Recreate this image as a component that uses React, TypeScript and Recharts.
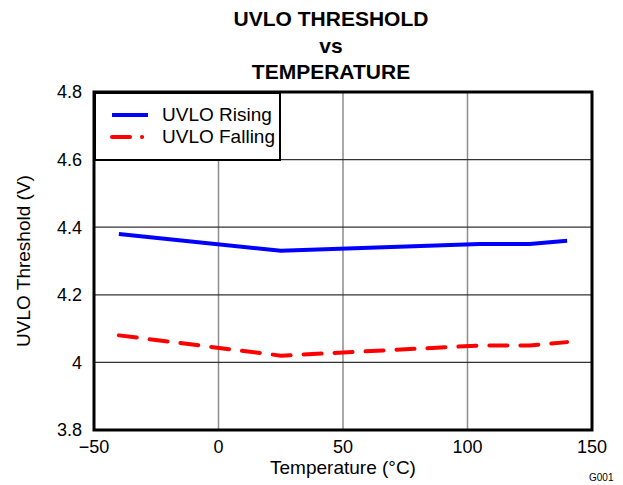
import { LineChart, Line, XAxis, YAxis, CartesianGrid, ReferenceArea } from "recharts";

const temps = [-40, 25, 105, 125, 140];
const rising = [4.38, 4.33, 4.35, 4.35, 4.36];
const falling = [4.08, 4.02, 4.05, 4.05, 4.06];
const xTicks = [-50, 0, 50, 100, 150];
const yTicks = [3.8, 4, 4.2, 4.4, 4.6, 4.8];
const titleLines = ["UVLO THRESHOLD", "vs", "TEMPERATURE"];

const data = temps.map((t, i) => ({ t, rising: rising[i], falling: falling[i] }));

const FONT = "'Liberation Sans', Arial, sans-serif";
const tickStyle = { fill: "#000", fontSize: 18, fontFamily: FONT };

// legend drawn as a plain box over the top-left corner of the plot
function LegendBox() {
  return (
    <div style={{ position: "absolute", left: 94, top: 92, border: "2px solid #000", background: "#fff", width: 187, height: 69, boxSizing: "border-box", fontSize: 19, padding: "10px 0 0 14px" }}>
      <div style={{ display: "flex", alignItems: "center", height: 22 }}>
        <svg width={40} height={6}><line x1={2} y1={3} x2={38} y2={3} stroke="#0000ff" strokeWidth={4} /></svg>
        <span style={{ marginLeft: 12 }}>UVLO Rising</span>
      </div>
      <div style={{ display: "flex", alignItems: "center", height: 22 }}>
        <svg width={40} height={6}><line x1={2} y1={3} x2={40} y2={3} stroke="#ff0000" strokeWidth={4} strokeLinecap="round" strokeDasharray="18 12 0.1 12" /></svg>
        <span style={{ marginLeft: 12 }}>UVLO Falling</span>
      </div>
    </div>
  );
}

export default function App() {
  return (
    <div style={{ position: "absolute", left: 0, top: 0, width: 623, height: 485, background: "#fff", fontFamily: FONT }}>
      {titleLines.map((s, i) => (
        <div key={s} style={{ position: "absolute", left: 0, width: 662, top: 6 + i * 26.5, textAlign: "center", fontWeight: "bold", fontSize: 21, lineHeight: "26px" }}>{s}</div>
      ))}
      <LineChart width={623} height={485} data={data} margin={{ top: 92, right: 31, left: 34, bottom: 25 }}>
        <CartesianGrid horizontal={false} stroke="#8c8c8c" strokeWidth={1.5} verticalValues={xTicks} />
        <CartesianGrid vertical={false} stroke="#333" strokeWidth={1.2} horizontalValues={yTicks} />
        <XAxis dataKey="t" type="number" domain={[-50, 150]} ticks={xTicks} tickLine={false} axisLine={false}
          tick={tickStyle} tickFormatter={(v: number) => (v < 0 ? "\u2212" + Math.abs(v) : String(v))}
          height={30} tickMargin={4}
          label={{ value: "Temperature (\u00B0C)", position: "insideBottom", offset: -14, fill: "#000", fontSize: 19, fontFamily: FONT }} />
        <YAxis type="number" domain={[3.8, 4.8]} ticks={yTicks} tickLine={false} axisLine={false} width={60}
          tick={tickStyle} tickFormatter={(v: number) => String(Number(v.toFixed(1)))} tickMargin={6}
          label={{ value: "UVLO Threshold (V)", angle: -90, position: "insideLeft", offset: -11, fill: "#000", fontSize: 19, fontFamily: FONT, style: { textAnchor: "middle" } }} />
        <ReferenceArea x1={-50} x2={150} y1={3.8} y2={4.8} fill="none" stroke="#000" strokeWidth={3} ifOverflow="visible" />
        <Line dataKey="rising" stroke="#0000ff" strokeWidth={4} dot={false} isAnimationActive={false} />
        <Line dataKey="falling" stroke="#ff0000" strokeWidth={4} dot={false} isAnimationActive={false} strokeDasharray="18 13" strokeLinecap="round" />
      </LineChart>
      <LegendBox />
      <div style={{ position: "absolute", left: 589, top: 472, fontSize: 10 }}>G001</div>
    </div>
  );
}
